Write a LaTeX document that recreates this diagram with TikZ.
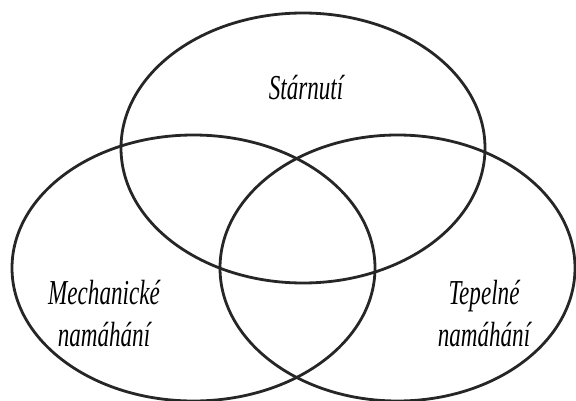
\documentclass[tikz,border=0pt]{standalone}
\usepackage{fontspec}
\newfontfamily\labelfont{Liberation Serif}[FakeStretch=0.66]
\usepackage{tikz}
\usetikzlibrary{positioning}

\begin{document}
\begin{tikzpicture}[x=1pt, y=-1pt,
    ring/.style={line width=2.8pt, draw=black!85},
    label/.style={align=center, inner sep=0pt, font=\labelfont\itshape\fontsize{35}{42}\selectfont}]
  \useasboundingbox (0,0) rectangle (576,401);

  % three overlapping sets
  \draw[ring] (303,148) ellipse (182 and 135);
  \draw[ring] (193.5,268) ellipse (181.5 and 133);
  \draw[ring] (397.5,268) ellipse (177.5 and 133);

  % set labels
  \node[label] (aging) at (306,88) {Stárnutí};
  \node[label] (mech) at (104,314) {Mechanické\\namáhání};
  \node[label] (heat) at (484,314) {Tepelné\\namáhání};
\end{tikzpicture}
\end{document}
